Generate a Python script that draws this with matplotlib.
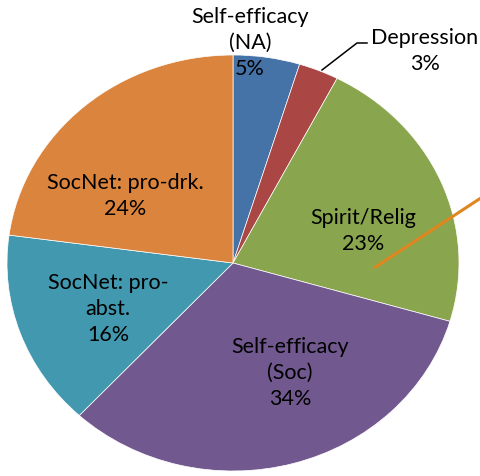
import matplotlib
matplotlib.use("Agg")
import matplotlib.pyplot as plt

categories = ["Self-efficacy\n(NA)", "Depression", "Spirit/Relig", "Self-efficacy\n(Soc)",
              "SocNet: pro-\nabst.", "SocNet: pro-drk."]
percent_values = [5, 3, 23, 34, 16, 24]
colors = ["#4572A7", "#AA4643", "#89A54E", "#71588F", "#4198AF", "#DB843D"]

W, H = 481, 476
CX, CY, RX, RY = 233, 263, 226, 208

def px(x, y):
    return ((x - CX) / RX, (CY - y) / RY)

fig = plt.figure(figsize=(W / 100, H / 100), dpi=100)
ax = fig.add_axes([0, 0, 1, 1])
ax.pie(percent_values, colors=colors, startangle=90, counterclock=False,
       radius=1, center=(0, 0),
       wedgeprops=dict(edgecolor="white", linewidth=0.5))
ax.set_aspect("auto")
ax.set_xlim(px(0, 0)[0], px(W, 0)[0])
ax.set_ylim(px(0, H)[1], px(0, 0)[1])
ax.axis("off")

label_pos = [(250, 43), (425, 51), (363, 231), (290, 373), (108, 309), (125, 196)]
for cat, val, (x, y) in zip(categories, percent_values, label_pos):
    ax.text(*px(x, y), f"{cat}\n{val}%", ha="center", va="center",
            fontsize=15.5, family=["Lato", "DejaVu Sans"], color="black",
            linespacing=1.38)

# leader line for Depression
lx, ly = zip(px(322, 70), px(357, 43), px(367, 43))
ax.plot(lx, ly, color="black", lw=1.1)

# stray orange line
ox, oy = zip(px(374, 268), px(490, 192))
ax.plot(ox, oy, color="#E0861F", lw=2.2, solid_capstyle="butt")

fig.savefig("out.png", dpi=100)
